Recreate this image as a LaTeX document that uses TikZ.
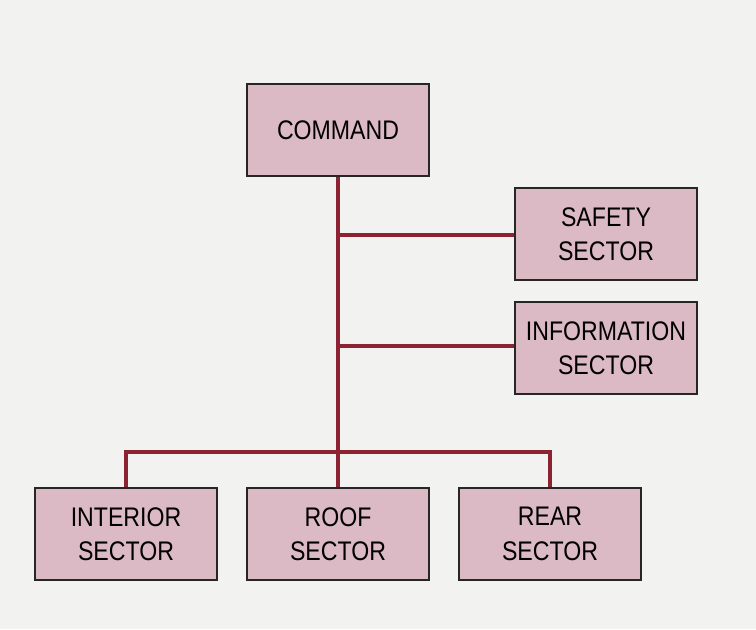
\documentclass[tikz,border=0pt]{standalone}
\usepackage{fontspec}
\setmainfont{Liberation Sans}[FakeStretch=0.86]
\usepackage{tikz}
\usetikzlibrary{positioning, calc}
\definecolor{boxfill}{RGB}{220,186,197}
\definecolor{linkred}{RGB}{140,35,50}
\definecolor{paper}{RGB}{242,242,240}

\begin{document}
\begin{tikzpicture}[
    x=0.02cm, y=-0.02cm,
    sector/.style={draw=black!85, line width=1.3pt, fill=boxfill, minimum width=3.64cm, minimum height=1.84cm, align=center, font=\fontsize{15.3}{19.5}\selectfont, inner sep=0pt},
    link/.style={draw=linkred, line width=1.9pt}
]

\fill[paper] (0,0) rectangle (756,629);
\useasboundingbox (0,0) rectangle (756,629);

\node[sector] (cmd) at (338,130) {COMMAND};
\node[sector] (safety) at (606,234) {SAFETY\\SECTOR};
\node[sector] (info) at (606,348) {INFORMATION\\SECTOR};
\node[sector] (interior) at (126,534) {INTERIOR\\SECTOR};
\node[sector] (roof) at (338,534) {ROOF\\SECTOR};
\node[sector] (rear) at (550,534) {REAR\\SECTOR};

\coordinate (tS) at (338,235);
\coordinate (tI) at (338,346);
\coordinate (bar) at (338,452);

\draw[link] (cmd.south) -- (roof.north);
\draw[link] (tS) -- (tS -| safety.west);
\draw[link] (tI) -- (tI -| info.west);
\draw[link] (interior.north) |- (bar) -| (rear.north);

\end{tikzpicture}
\end{document}
